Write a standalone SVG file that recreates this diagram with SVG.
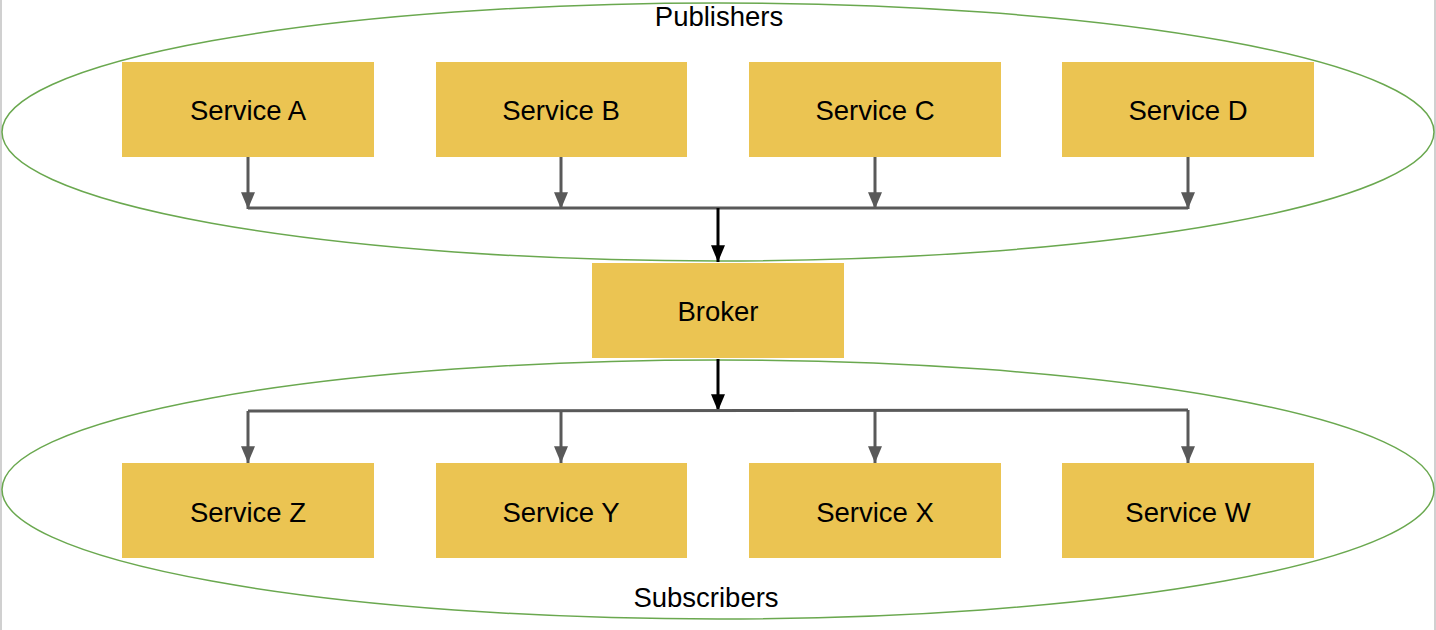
<svg xmlns="http://www.w3.org/2000/svg" width="1436" height="630" viewBox="0 0 1436 630">
<defs>
<style>
.grp{fill:none;stroke:#6aa84f;stroke-width:1.5}
.box{fill:#ebc452;stroke:none}
.t{font-family:"Liberation Sans",Arial,sans-serif;font-size:27.5px;fill:#000;text-anchor:middle}
.g{fill:none;stroke:#595959;stroke-width:3}
.k{fill:none;stroke:#000;stroke-width:3}
</style>
<marker id="ag" viewBox="0 0 12 10" refX="12" refY="5" markerWidth="5.6" markerHeight="4.7" markerUnits="strokeWidth" orient="auto"><path d="M0,0 L12,5 L0,10 Z" fill="#595959"/></marker>
<marker id="ak" viewBox="0 0 12 10" refX="12" refY="5" markerWidth="5.6" markerHeight="4.7" markerUnits="strokeWidth" orient="auto"><path d="M0,0 L12,5 L0,10 Z" fill="#000"/></marker>
</defs>
<rect x="0" y="0" width="1436" height="630" fill="#fff"/>
<line x1="1" y1="0" x2="1" y2="630" stroke="#d0d0d0" stroke-width="2"/>
<line x1="1435" y1="0" x2="1435" y2="630" stroke="#d0d0d0" stroke-width="2"/>
<g id="publishers">
<ellipse class="grp" cx="718" cy="132" rx="716" ry="129"/>
<text class="t" x="719" y="26">Publishers</text>
</g>
<g id="subscribers">
<ellipse class="grp" cx="718" cy="489.5" rx="716" ry="129.5"/>
<text class="t" x="706" y="607">Subscribers</text>
</g>
<g id="connectors">
<polyline class="g" points="248,157 248,209" marker-end="url(#ag)"/>
<polyline class="g" points="561,157 561,209" marker-end="url(#ag)"/>
<polyline class="g" points="875,157 875,209" marker-end="url(#ag)"/>
<polyline class="g" points="1188,157 1188,209" marker-end="url(#ag)"/>
<line class="g" x1="248" y1="208" x2="1188" y2="208"/>
<line class="k" x1="718" y1="208" x2="718" y2="262" marker-end="url(#ak)"/>
<line class="k" x1="718" y1="359" x2="718" y2="411" marker-end="url(#ak)"/>
<line class="g" x1="248" y1="411" x2="1188" y2="410"/>
<polyline class="g" points="248,411 248,463" marker-end="url(#ag)"/>
<polyline class="g" points="561,411 561,463" marker-end="url(#ag)"/>
<polyline class="g" points="875,410 875,463" marker-end="url(#ag)"/>
<polyline class="g" points="1188,410 1188,463" marker-end="url(#ag)"/>
</g>
<g id="serviceA"><rect class="box" x="122" y="62" width="252" height="95"/><text class="t" x="248" y="119.5">Service A</text></g>
<g id="serviceB"><rect class="box" x="436" y="62" width="251" height="95"/><text class="t" x="561" y="119.5">Service B</text></g>
<g id="serviceC"><rect class="box" x="749" y="62" width="252" height="95"/><text class="t" x="875" y="119.5">Service C</text></g>
<g id="serviceD"><rect class="box" x="1062" y="62" width="252" height="95"/><text class="t" x="1188" y="119.5">Service D</text></g>
<g id="broker"><rect class="box" x="592" y="263" width="252" height="95"/><text class="t" x="718" y="320.5">Broker</text></g>
<g id="serviceZ"><rect class="box" x="122" y="463" width="252" height="95"/><text class="t" x="248" y="521.5">Service Z</text></g>
<g id="serviceY"><rect class="box" x="436" y="463" width="251" height="95"/><text class="t" x="561" y="521.5">Service Y</text></g>
<g id="serviceX"><rect class="box" x="749" y="463" width="252" height="95"/><text class="t" x="875" y="521.5">Service X</text></g>
<g id="serviceW"><rect class="box" x="1062" y="463" width="252" height="95"/><text class="t" x="1188" y="521.5">Service W</text></g>
</svg>
